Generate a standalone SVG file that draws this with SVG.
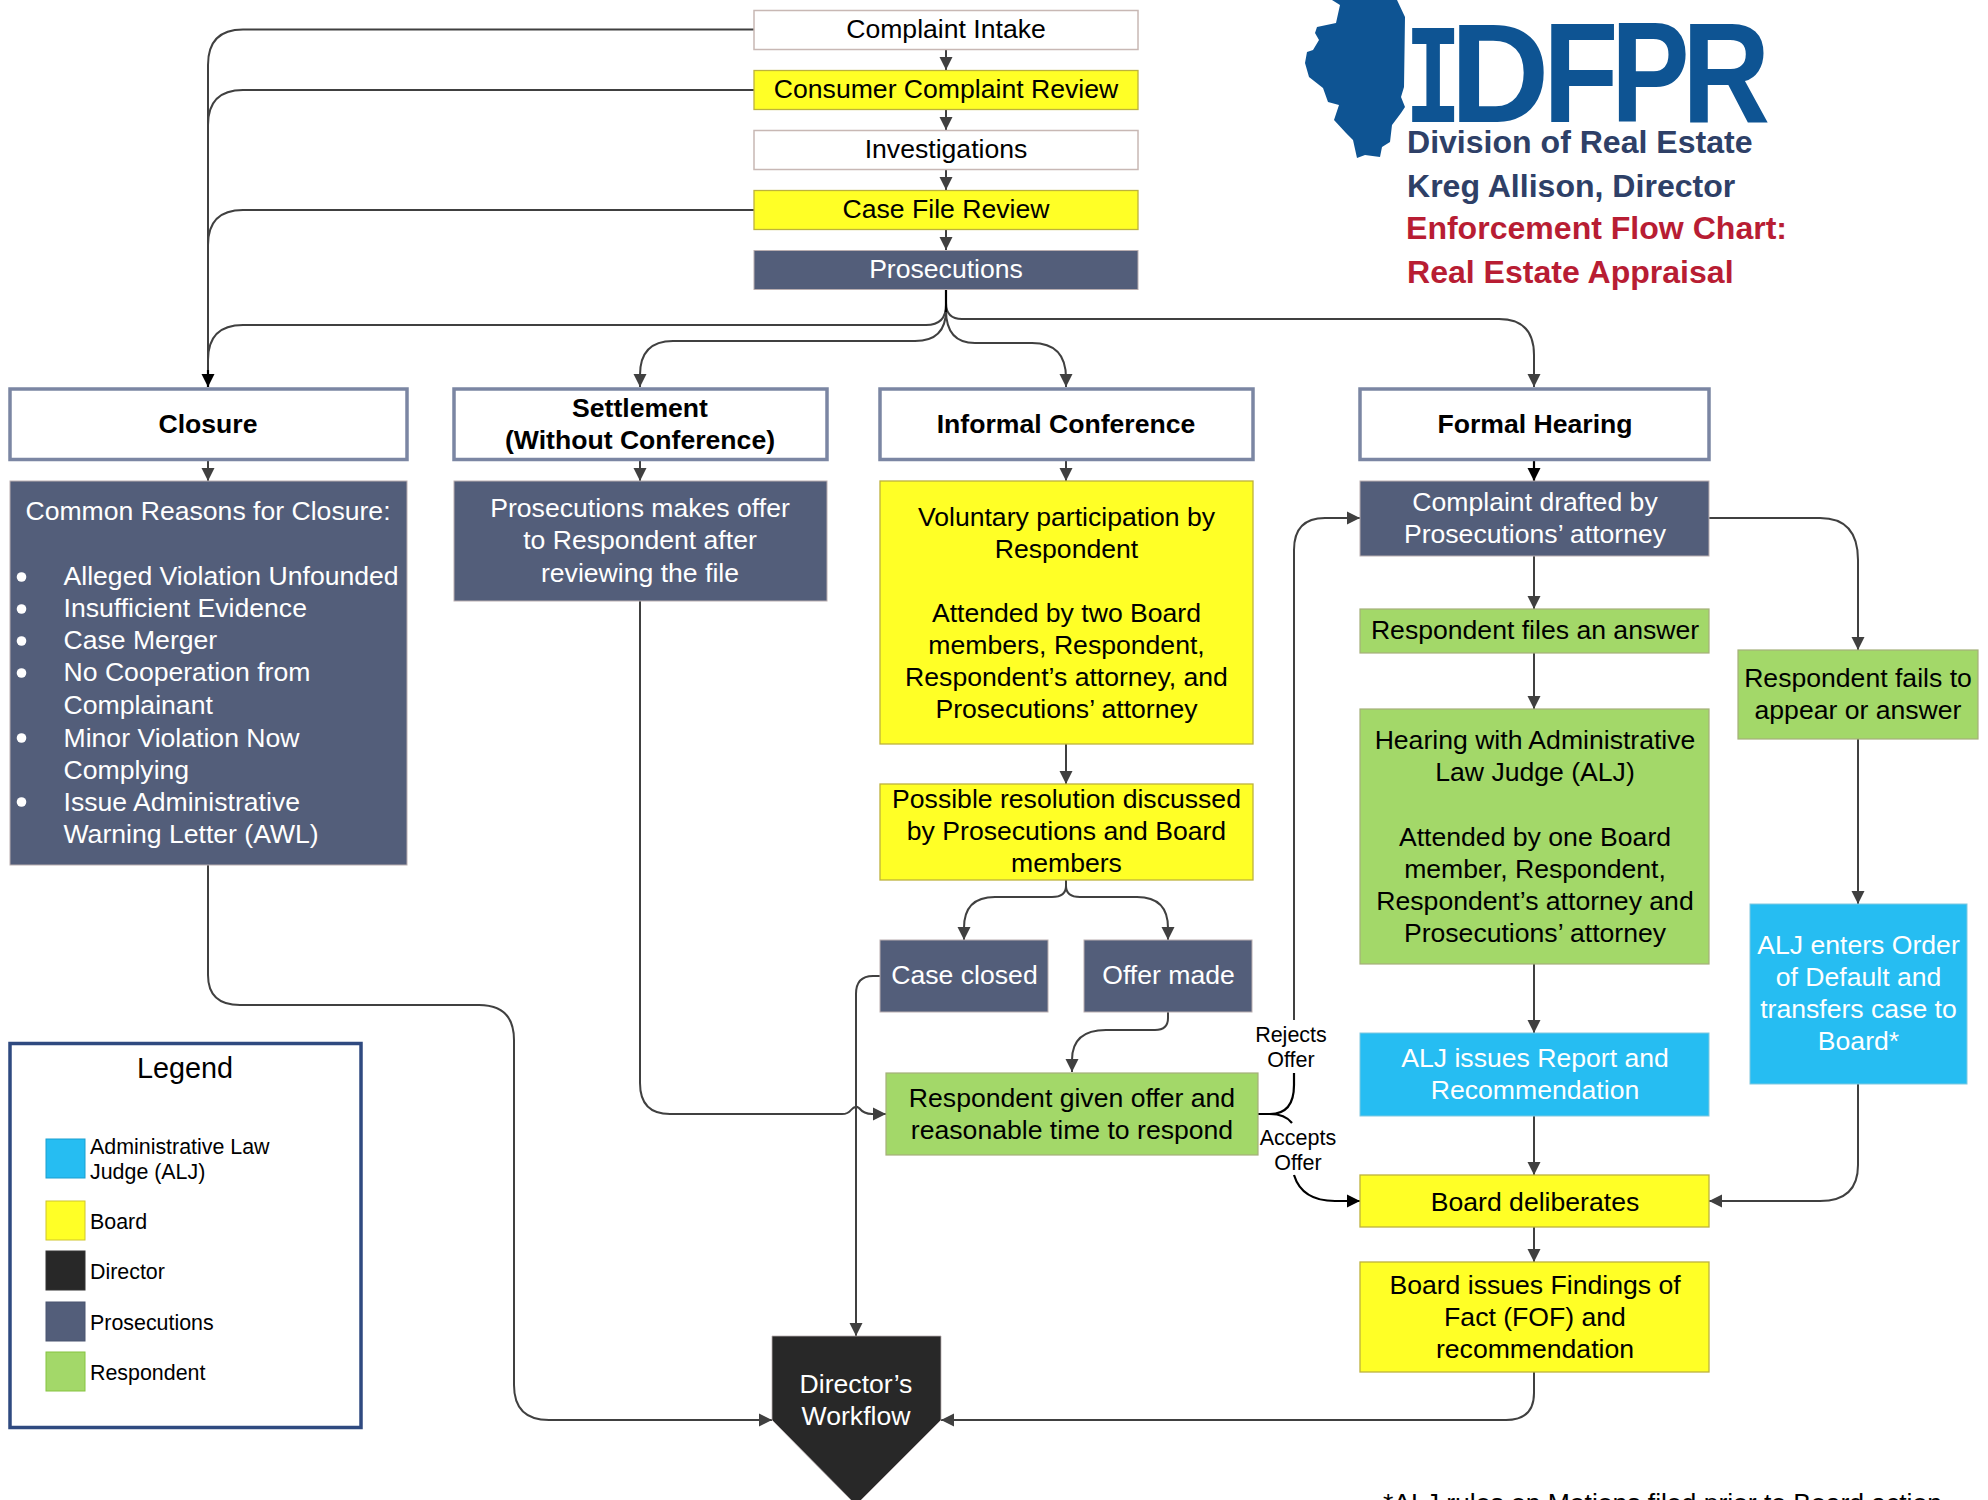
<svg xmlns="http://www.w3.org/2000/svg" width="1988" height="1500" viewBox="0 0 1988 1500">
<style>
text{font-family:"Liberation Sans",Arial,sans-serif;font-size:26.6px;fill:#000;text-anchor:middle}
.w{fill:#fff}.b{font-weight:bold}.l{text-anchor:start}
.leg{font-size:21.4px;text-anchor:start}.lab{font-size:21.5px}
.logo{font-weight:bold;font-size:32.05px;text-anchor:start;fill:#2e4067}.red{fill:#b81d33}
.big{font-weight:bold;font-size:142px;text-anchor:start;fill:#0e5493}
.plain{fill:#fff;stroke:#c8b8b4;stroke-width:1.5}.yel{fill:#ffff26;stroke:#bdb23c;stroke-width:1.3}
.pro{fill:#535e7a;stroke:#b9aeb0;stroke-width:1}.grn{fill:#a3d869;stroke:#a5b07a;stroke-width:1.2}
.blu{fill:#26bdf2;stroke:#7fc8e0;stroke-width:1}.head{fill:#fff;stroke:#7b86a3;stroke-width:3.5}
.c{fill:none;stroke:#404040;stroke-width:2;marker-end:url(#a)}.n{fill:none;stroke:#404040;stroke-width:2}
.k{fill:none;stroke:#000;stroke-width:2.2;marker-end:url(#k)}.kn{fill:none;stroke:#000;stroke-width:2.2}
</style>
<defs>
<marker id="a" markerUnits="userSpaceOnUse" markerWidth="14" markerHeight="14" refX="13" refY="7" orient="auto"><path d="M0 0.5L13 7L0 13.5z" fill="#404040"/></marker>
<marker id="k" markerUnits="userSpaceOnUse" markerWidth="14" markerHeight="14" refX="13" refY="7" orient="auto"><path d="M0 0.5L13 7L0 13.5z" fill="#000"/></marker>
</defs>
<g id="logo">
<path d="M1332 0L1340 5L1336 23L1317 27L1315 33L1319 40L1313 50L1307 52L1305 63L1309 77L1323 88L1328 102L1339 105L1334 120L1346 133L1353 140L1357 158L1365 155L1380 157L1382 147L1390 142L1392 125L1401 113L1405 107L1401 97L1404 87L1405 17L1397 0z" fill="#0e5493"/>
<text class="big" transform="translate(1405,122) scale(.66,1)" style="font-family:'Liberation Mono'">I</text>
<text class="big" transform="translate(1450,122) scale(.97,1)">D</text>
<text class="big" transform="translate(1543,122) scale(.87,1)">F</text>
<text class="big" transform="translate(1611,122) scale(.83,1)">P</text>
<text class="big" transform="translate(1682,122) scale(.86,1)">R</text>
<text class="logo" x="1407" y="153">Division of Real Estate</text>
<text class="logo" x="1407" y="197">Kreg Allison, Director</text>
<text class="logo red" x="1406" y="239">Enforcement Flow Chart:</text>
<text class="logo red" x="1407" y="283">Real Estate Appraisal</text>
</g>
<g id="connectors">
<path class="n" d="M754 29.5H243Q208 29.5 208 65V385"/>
<path class="n" d="M754 90H243Q208 90 208 125V385"/>
<path class="n" d="M754 210H243Q208 210 208 245V385"/>
<path class="c" d="M946 49V70"/><path class="c" d="M946 109V130"/><path class="c" d="M946 169V190"/><path class="c" d="M946 229V250"/>
<path class="n" d="M946 289V305Q946 325 926 325H243Q208 325 208 360V380"/>
<path class="k" d="M208 370V387"/>
<path class="c" d="M946 289V310Q946 341 915 341H673Q640 341 640 375V387"/>
<path class="c" d="M946 289V310Q946 343 975 343H1032Q1066 343 1066 378V387"/>
<path class="c" d="M946 289V303Q946 319 962 319H1499Q1534 319 1534 355V387"/>
<path class="kn" d="M946 289V312"/>
<path class="c" d="M208 461V481"/><path class="c" d="M640 461V481"/><path class="c" d="M1066 461V481"/><path class="k" d="M1534 461V481"/>
<path class="c" d="M1534 556V609"/><path class="c" d="M1534 653V709"/><path class="c" d="M1534 964V1033"/><path class="c" d="M1534 1116V1175"/><path class="c" d="M1534 1227V1262"/>
<path class="c" d="M1066 744V784"/>
<path class="c" d="M1066 880V886Q1066 897 1052 897H995Q964 897 964 928V940"/>
<path class="c" d="M1066 880V886Q1066 897 1080 897H1137Q1168 897 1168 928V940"/>
<path class="c" d="M1168 1012V1018Q1168 1030 1155 1030H1106Q1072 1030 1072 1060V1072"/>
<path class="c" d="M880 976H873Q856 976 856 994V1336"/>
<path class="c" d="M208 865V975Q208 1005 240 1005H479Q514 1005 514 1040V1385Q514 1420 549 1420H772"/>
<path class="c" d="M640 601V1083Q640 1114 670 1114H842Q848 1114 851 1110Q855 1105 859 1108Q864 1114 872 1114H886"/>
<path class="kn" d="M1258 1114H1270Q1294 1114 1294 1085V1073"/>
<path class="c" d="M1294 1020V550Q1294 518 1325 518H1360"/>
<path class="kn" d="M1270 1114Q1285 1114 1292 1123"/>
<path class="k" d="M1294 1175Q1302 1201 1335 1201H1360"/>
<path class="c" d="M1709 518H1820Q1858 518 1858 560V650"/>
<path class="c" d="M1858 739V904"/>
<path class="c" d="M1858 1084V1165Q1858 1201 1820 1201H1709"/>
<path class="c" d="M1534 1372V1393Q1534 1420 1506 1420H941"/>
</g>
<g id="intake"><rect class="plain" x="754" y="10.5" width="384" height="39"/><text x="946" y="38">Complaint Intake</text></g>
<g id="consumer"><rect class="yel" x="754" y="70.5" width="384" height="39"/><text x="946" y="98">Consumer Complaint Review</text></g>
<g id="investigations"><rect class="plain" x="754" y="130.5" width="384" height="39"/><text x="946" y="158">Investigations</text></g>
<g id="casefile"><rect class="yel" x="754" y="190.5" width="384" height="39"/><text x="946" y="218">Case File Review</text></g>
<g id="prosecutions"><rect class="pro" x="754" y="250.5" width="384" height="39"/><text class="w" x="946" y="278">Prosecutions</text></g>
<g id="closure-h"><rect class="head" x="10" y="389" width="397" height="70.5"/><text class="b" x="208" y="433">Closure</text></g>
<g id="settlement-h"><rect class="head" x="454" y="389" width="373" height="70.5"/><text class="b" x="640" y="417">Settlement</text><text class="b" x="640" y="449">(Without Conference)</text></g>
<g id="informal-h"><rect class="head" x="880" y="389" width="373" height="70.5"/><text class="b" x="1066" y="433">Informal Conference</text></g>
<g id="formal-h"><rect class="head" x="1360" y="389" width="349" height="70.5"/><text class="b" x="1535" y="433">Formal Hearing</text></g>
<g id="closure-b"><rect class="pro" x="10" y="481" width="397" height="384"/>
<text class="w" x="208" y="520">Common Reasons for Closure:</text>
<g fill="#fff"><circle cx="21.5" cy="577" r="4.8"/><circle cx="21.5" cy="609" r="4.8"/><circle cx="21.5" cy="641" r="4.8"/><circle cx="21.5" cy="673" r="4.8"/><circle cx="21.5" cy="738" r="4.8"/><circle cx="21.5" cy="802" r="4.8"/></g>
<text class="w l" x="63.5" y="585">Alleged Violation Unfounded</text><text class="w l" x="63.5" y="617">Insufficient Evidence</text><text class="w l" x="63.5" y="649">Case Merger</text><text class="w l" x="63.5" y="681">No Cooperation from</text><text class="w l" x="63.5" y="714">Complainant</text><text class="w l" x="63.5" y="746.5">Minor Violation Now</text><text class="w l" x="63.5" y="778.5">Complying</text><text class="w l" x="63.5" y="810.5">Issue Administrative</text><text class="w l" x="63.5" y="843">Warning Letter (AWL)</text></g>
<g id="settlement-b"><rect class="pro" x="454" y="481" width="373" height="120"/><text class="w" x="640" y="517">Prosecutions makes offer</text><text class="w" x="640" y="549">to Respondent after</text><text class="w" x="640" y="582">reviewing the file</text></g>
<g id="informal-b"><rect class="yel" x="880" y="481" width="373" height="263"/><text x="1066.5" y="526">Voluntary participation by</text><text x="1066.5" y="558">Respondent</text><text x="1066.5" y="622">Attended by two Board</text><text x="1066.5" y="654">members, Respondent,</text><text x="1066.5" y="686">Respondent’s attorney, and</text><text x="1066.5" y="718">Prosecutions’ attorney</text></g>
<g id="possible"><rect class="yel" x="880" y="784" width="373" height="96"/><text x="1066.5" y="808">Possible resolution discussed</text><text x="1066.5" y="840">by Prosecutions and Board</text><text x="1066.5" y="872">members</text></g>
<g id="case-closed"><rect class="pro" x="880" y="940" width="168" height="72"/><text class="w" x="964.5" y="984">Case closed</text></g>
<g id="offer-made"><rect class="pro" x="1084" y="940" width="168" height="72"/><text class="w" x="1168.5" y="984">Offer made</text></g>
<g id="given"><rect class="grn" x="886" y="1073" width="372" height="82"/><text x="1072" y="1107">Respondent given offer and</text><text x="1072" y="1139">reasonable time to respond</text></g>
<g id="drafted"><rect class="pro" x="1360" y="481" width="349" height="75"/><text class="w" x="1535" y="511">Complaint drafted by</text><text class="w" x="1535" y="543">Prosecutions’ attorney</text></g>
<g id="files"><rect class="grn" x="1360" y="609" width="349" height="44"/><text x="1535" y="639">Respondent files an answer</text></g>
<g id="hearing"><rect class="grn" x="1360" y="709" width="349" height="255"/><text x="1535" y="748.5">Hearing with Administrative</text><text x="1535" y="780.5">Law Judge (ALJ)</text><text x="1535" y="845.5">Attended by one Board</text><text x="1535" y="877.5">member, Respondent,</text><text x="1535" y="909.5">Respondent’s attorney and</text><text x="1535" y="941.5">Prosecutions’ attorney</text></g>
<g id="alj-report"><rect class="blu" x="1360" y="1033" width="349" height="83"/><text class="w" x="1535" y="1067">ALJ issues Report and</text><text class="w" x="1535" y="1099">Recommendation</text></g>
<g id="deliberates"><rect class="yel" x="1360" y="1175" width="349" height="52"/><text x="1535" y="1211">Board deliberates</text></g>
<g id="findings"><rect class="yel" x="1360" y="1262" width="349" height="110"/><text x="1535" y="1294">Board issues Findings of</text><text x="1535" y="1326">Fact (FOF) and</text><text x="1535" y="1358">recommendation</text></g>
<g id="fails"><rect class="grn" x="1738" y="650" width="240" height="89"/><text x="1858" y="687">Respondent fails to</text><text x="1858" y="719">appear or answer</text></g>
<g id="alj-default"><rect class="blu" x="1750" y="904" width="217" height="180"/><text class="w" x="1858.5" y="954">ALJ enters Order</text><text class="w" x="1858.5" y="986">of Default and</text><text class="w" x="1858.5" y="1018">transfers case to</text><text class="w" x="1858.5" y="1050">Board*</text></g>
<g id="director"><path d="M772 1336H941V1420L856 1505L772 1420z" fill="#282828" stroke="#b9aeb0" stroke-width="0.8"/><text class="w" x="856" y="1393">Director’s</text><text class="w" x="856" y="1425">Workflow</text></g>
<g id="labels"><text class="lab" x="1291" y="1042">Rejects</text><text class="lab" x="1291" y="1067">Offer</text><text class="lab" x="1298" y="1145">Accepts</text><text class="lab" x="1298" y="1170">Offer</text></g>
<g id="legend"><rect x="10" y="1043.5" width="351" height="384" fill="#fff" stroke="#2f4a80" stroke-width="3.5"/>
<text x="185" y="1078" style="font-size:28.8px">Legend</text>
<rect x="46" y="1139" width="39" height="39" fill="#26bdf2" stroke="#1a9fd0"/><text class="leg" x="90" y="1154">Administrative Law</text><text class="leg" x="90" y="1179">Judge (ALJ)</text>
<rect x="46" y="1201" width="39" height="39" fill="#ffff26" stroke="#cfc52c"/><text class="leg" x="90" y="1229">Board</text>
<rect x="46" y="1251" width="39" height="39" fill="#282828" stroke="#333"/><text class="leg" x="90" y="1279">Director</text>
<rect x="46" y="1302" width="39" height="39" fill="#535e7a" stroke="#4a5570"/><text class="leg" x="90" y="1330">Prosecutions</text>
<rect x="46" y="1352" width="39" height="39" fill="#a3d869" stroke="#86c440"/><text class="leg" x="90" y="1380">Respondent</text></g>
<g id="footnote"><text class="l" x="1383" y="1512" textLength="559">*ALJ rules on Motions filed prior to Board action</text></g>
</svg>
